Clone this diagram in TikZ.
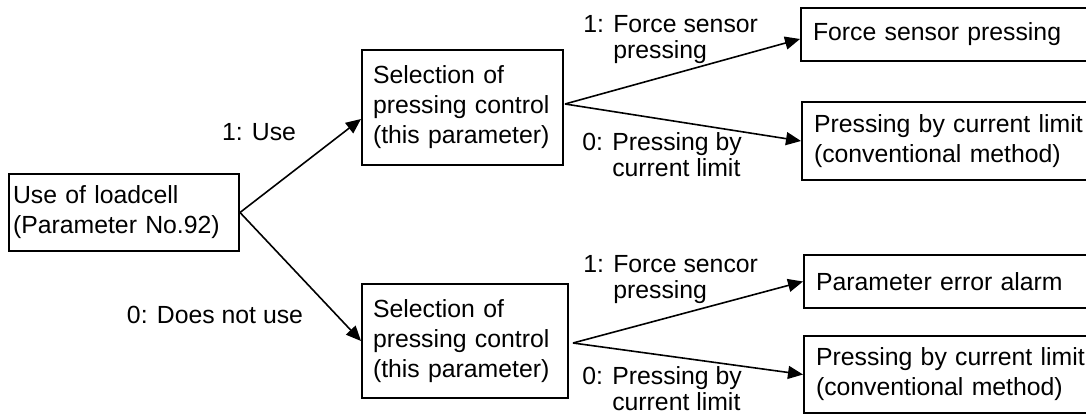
\documentclass[tikz,border=0pt]{standalone}
\usepackage{fontspec}
\setmainfont{Liberation Sans}
\usetikzlibrary{arrows.meta,calc}

\begin{document}
\begin{tikzpicture}[x=0.5pt,y=-0.5pt]
	\tikzstyle{box} = [draw, line width=1pt, anchor=north west, align=left, inner ysep=0pt, font=\fontsize{12.4}{15}\selectfont];
	\tikzstyle{lbl} = [inner sep=0pt, align=left, font=\fontsize{12.4}{13}\selectfont];
	\tikzstyle{arr} = [line width=0.8pt, -{Triangle[length=7.5pt,width=6.5pt]}];
	\useasboundingbox (0,0) rectangle (1086,416);
	
	\node[box, inner xsep=2pt, text width=111pt, minimum height=38.5pt] (Use) at (8,173) {Use of loadcell\\(Parameter No.92)};
	
	\node[box, inner xsep=5.5pt, text width=89.5pt, minimum height=57.5pt] (SelA) at (361,49) {Selection of\\pressing control\\(this parameter)};
	\node[box, inner xsep=5.5pt, text width=92pt, minimum height=57pt] (SelB) at (361,283) {Selection of\\pressing control\\(this parameter)};
	
	\node[box, inner xsep=6pt, text width=150pt, minimum height=26.5pt] (Force) at (800,7) {Force sensor pressing};
	\node[box, inner xsep=6pt, text width=150pt, minimum height=39pt] (CurA) at (801,101) {Pressing by current limit\\(conventional method)};
	\node[box, inner xsep=6pt, text width=150pt, minimum height=26.5pt] (Alarm) at (803,254) {Parameter error alarm};
	\node[box, inner xsep=6pt, text width=150pt, minimum height=38.5pt] (CurB) at (803,335) {Pressing by current limit\\(conventional method)};
	
	\coordinate (forkA) at ($(SelA.east)+(1,-3.5)$);
	\coordinate (forkB) at ($(SelB.east)+(4,2)$);
	
	\draw[arr] (Use.east) -- ($(SelA.west)+(0,11.5)$);
	\draw[arr] (Use.east) -- (SelB.west);
	\draw[arr] (forkA) -- ($(Force.west)+(0,4.5)$);
	\draw[arr] (forkA) -- (CurA.west);
	\draw[arr] (forkB) -- (Alarm.west);
	\draw[arr] (forkB) -- (CurB.west);
	
	\node[lbl] (lUse) at (259,132) {1: Use};
	\node[lbl] (lNot) at (215,315) {0: Does not use};
	\node[lbl, anchor=west] (lForceA) at (583,40) {1: Force sensor\\\hphantom{1: }pressing};
	\node[lbl, anchor=west] (lCurA) at (582,155) {0: Pressing by\\\hphantom{0: }current limit};
	\node[lbl, anchor=west] (lForceB) at (583,280) {1: Force sencor\\\hphantom{1: }pressing};
	\node[lbl, anchor=west] (lCurB) at (582,389) {0: Pressing by\\\hphantom{0: }current limit};
\end{tikzpicture}
\end{document}
